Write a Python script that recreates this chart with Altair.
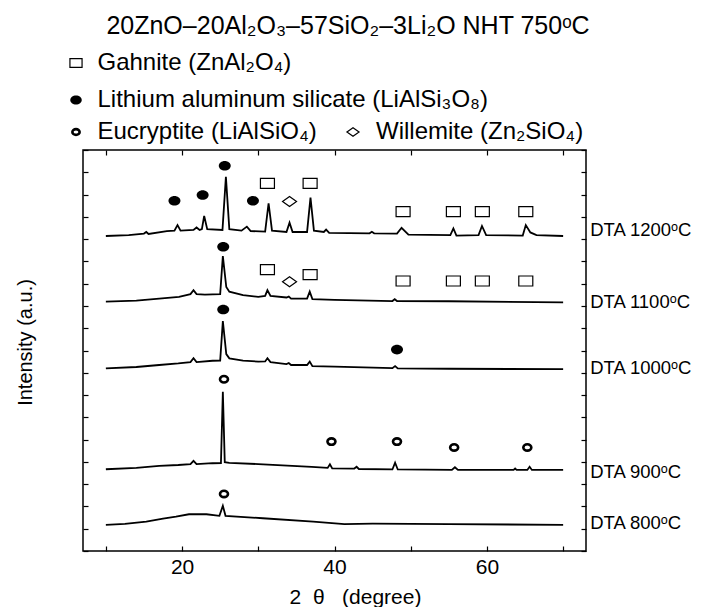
import altair as alt
import pandas as pd

FONT = "Liberation Sans"

# ---- XRD traces (2theta, stacked intensity in a.u.) ----
x_1200 = [10, 13, 15.0, 15.3, 15.6, 18.0, 19.0, 19.4, 19.8, 21.5, 21.9, 22.3, 22.6, 22.9, 23.3,
          25.3, 25.75, 26.2, 27.8, 28.5, 29.0, 30.9, 31.35, 31.8, 33.7, 34.1, 34.5, 36.4, 36.85,
          37.3, 38.6, 38.9, 39.3, 44.6, 44.9, 45.2, 48.2, 48.8, 49.7, 55.2, 55.6, 56.0, 58.9,
          59.35, 59.9, 64.7, 65.1, 65.7, 66.5, 70]
y_1200 = [14.14, 14.18, 14.25, 14.32, 14.23, 14.36, 14.38, 14.63, 14.38, 14.41, 14.52, 14.41,
          14.45, 15.04, 14.45, 14.41, 16.80, 14.45, 14.38, 14.56, 14.36, 14.34, 15.61, 14.38,
          14.32, 14.74, 14.32, 14.32, 15.86, 14.38, 14.32, 14.43, 14.28, 14.26, 14.33, 14.26,
          14.25, 14.51, 14.20, 14.18, 14.48, 14.16, 14.18, 14.59, 14.18, 14.16, 14.63, 14.30,
          14.18, 14.14]

x_1100 = [10, 14, 17, 19.6, 21.1, 21.5, 21.9, 23, 25.0, 25.35, 25.8, 26.2, 28, 30, 30.9, 31.2,
          31.6, 33.7, 34.0, 34.3, 36.4, 36.75, 37.1, 40, 47.6, 47.9, 48.2, 55, 70]
y_1100 = [11.19, 11.24, 11.33, 11.41, 11.53, 11.71, 11.53, 11.51, 11.53, 13.24, 11.85, 11.64,
          11.49, 11.41, 11.45, 11.71, 11.45, 11.38, 11.42, 11.33, 11.33, 11.64, 11.31, 11.27,
          11.22, 11.30, 11.22, 11.21, 11.16]

x_1000 = [10, 14, 17, 19.5, 21.1, 21.5, 21.9, 24, 25.0, 25.35, 25.8, 26.2, 28, 30, 30.9, 31.2,
          31.6, 33.7, 34.0, 34.3, 36.4, 36.75, 37.1, 40, 47.6, 47.95, 48.3, 55, 70]
y_1000 = [8.20, 8.26, 8.35, 8.42, 8.48, 8.65, 8.48, 8.54, 8.55, 10.32, 8.84, 8.65, 8.55, 8.50,
          8.51, 8.65, 8.48, 8.39, 8.44, 8.35, 8.35, 8.50, 8.30, 8.28, 8.21, 8.30, 8.20, 8.18, 8.16]

x_900 = [10, 14, 17, 19.5, 21.1, 21.5, 21.9, 24, 25.1, 25.35, 25.6, 26.2, 30, 37, 39.1, 39.4,
         39.7, 42.6, 42.9, 43.2, 47.6, 47.95, 48.3, 55.4, 55.8, 56.2, 63.5, 63.7, 63.9, 65.3,
         65.6, 65.9, 70]
y_900 = [3.67, 3.73, 3.82, 3.86, 3.90, 4.05, 3.90, 3.94, 3.95, 7.15, 3.99, 3.96, 3.90, 3.78,
         3.73, 3.89, 3.71, 3.70, 3.78, 3.68, 3.66, 3.96, 3.66, 3.64, 3.76, 3.64, 3.64, 3.70,
         3.64, 3.64, 3.78, 3.64, 3.64]

x_800 = [10, 12.5, 15.3, 17.5, 19.2, 20.9, 23.2, 24.9, 25.35, 25.7, 30.6, 37.2, 41.3, 45, 55, 70]
y_800 = [1.17, 1.22, 1.32, 1.45, 1.54, 1.65, 1.65, 1.58, 2.03, 1.58, 1.47, 1.32, 1.21, 1.23,
         1.21, 1.17]

curve_names = ["DTA 1200ᵒC", "DTA 1100ᵒC", "DTA 1000ᵒC", "DTA 900ᵒC", "DTA 800ᵒC"]
curve_x = [x_1200, x_1100, x_1000, x_900, x_800]
curve_y = [y_1200, y_1100, y_1000, y_900, y_800]
label_x = [70, 70, 70, 70, 70]
label_y = [14.41, 11.19, 8.20, 3.56, 1.27]

# ---- phase markers ----
gah_x = [31.2, 36.8, 49.0, 55.6, 59.4, 65.1, 31.2, 36.8, 49.0, 55.6, 59.4, 65.1]
gah_y = [16.50, 16.50, 15.23, 15.23, 15.23, 15.23, 12.63, 12.41, 12.12, 12.12, 12.12, 12.12]
las_x = [19.0, 22.7, 25.6, 29.3, 25.4, 25.4, 48.2]
las_y = [15.72, 15.98, 17.29, 15.72, 13.66, 10.84, 9.04]
euc_x = [25.5, 39.6, 48.2, 55.7, 65.3, 25.5]
euc_y = [7.71, 4.91, 4.91, 4.65, 4.65, 2.56]
wil_x = [34.1, 34.1]
wil_y = [15.69, 12.09]

gah_label = "Gahnite (ZnAl₂O₄)"
las_label = "Lithium aluminum silicate (LiAlSi₃O₈)"
euc_label = "Eucryptite (LiAlSiO₄)"
wil_label = "Willemite (Zn₂SiO₄)"
title_text = "20ZnO–20Al₂O₃–57SiO₂–3Li₂O NHT 750ᵒC"
x_title = "2\u00a0\u00a0θ\u00a0\u00a0\u00a0(degree)"

x_ticks = [10, 20, 30, 40, 50, 60, 70]
y_ticks = list(range(0, 19))

# ---- tables ----
frames = []
for name, xs, ys in zip(curve_names, curve_x, curve_y):
    frames.append(pd.DataFrame({"curve": name, "two_theta": xs, "intensity": ys}))
df_lines = pd.concat(frames, ignore_index=True)
df_labels = pd.DataFrame({"curve": curve_names, "two_theta": label_x, "intensity": label_y})

xscale = alt.Scale(domain=[7, 73], nice=False, zero=False)
yscale = alt.Scale(domain=[0, 18], nice=False, zero=False)

SQUARE = "M-1.4,-1H1.4V1H-1.4Z"
ELLIPSE = "M-1.25,0A1.25,1,0,1,1,1.25,0A1.25,1,0,1,1,-1.25,0Z"
DIAMOND = "M-1.4,0L0,-1L1.4,0L0,1Z"

lines = alt.Chart(df_lines).mark_line(color="black", strokeWidth=1.8).encode(
    x=alt.X("two_theta:Q", scale=xscale, axis=alt.Axis(
        orient="bottom", values=x_ticks, offset=-5, tickSize=5, domain=False, grid=False,
        labelExpr="datum.value % 20 === 0 ? datum.label : ''", labelFlush=False,
        labelPadding=5, labelFontSize=21, labelFont=FONT, labelColor="black",
        title=x_title, titleFont=FONT, titleFontSize=21, titleFontWeight="normal",
        titleColor="black", titleX=272, titleY=51, titleBaseline="middle", titleAlign="center")),
    y=alt.Y("intensity:Q", scale=yscale, axis=alt.Axis(
        orient="left", values=y_ticks, offset=-5, tickSize=5, domain=False, grid=False,
        labels=False, title="Intensity (a.u.)", titleFont=FONT, titleFontSize=20,
        titleFontWeight="normal", titleColor="black", titleX=-63, titleY=192,
        titleAngle=270, titleBaseline="middle", titleAlign="center")),
    detail="curve:N",
)

labels = alt.Chart(df_labels).mark_text(
    align="left", baseline="middle", dx=27, font=FONT, fontSize=18.5, color="black"
).encode(
    x=alt.X("two_theta:Q", scale=xscale, axis=None),
    y=alt.Y("intensity:Q", scale=yscale, axis=None),
    text="curve:N",
)


def marker_layer(xs, ys, label, path, filled, size, sw, lsize, lx, ly, loff, axes=False):
    d = pd.DataFrame({"two_theta": xs, "intensity": ys, "phase": label})
    if axes:
        xax = alt.Axis(orient="top", values=x_ticks, offset=-5, tickSize=5, domain=False,
                       grid=False, labels=False)
        yax = alt.Axis(orient="right", values=y_ticks, offset=-5, tickSize=5, domain=False,
                       grid=False, labels=False)
        xenc = alt.X("two_theta:Q", scale=xscale, axis=xax, title=None)
        yenc = alt.Y("intensity:Q", scale=yscale, axis=yax, title=None)
    else:
        xenc = alt.X("two_theta:Q", scale=xscale, axis=None)
        yenc = alt.Y("intensity:Q", scale=yscale, axis=None)
    leg = alt.Legend(
        orient="none", legendX=lx, legendY=ly, title=None, padding=0,
        labelFont=FONT, labelFontSize=24, labelColor="black", labelLimit=700,
        labelOffset=loff, symbolSize=lsize, symbolStrokeColor="black",
        symbolFillColor="black" if filled else "transparent", symbolStrokeWidth=sw,
    )
    return alt.Chart(d).mark_point(filled=filled, color="black", size=size,
                                   strokeWidth=sw, opacity=1).encode(
        x=xenc, y=yenc,
        shape=alt.Shape("phase:N", scale=alt.Scale(domain=[label], range=[path]), legend=leg),
    )


gah = marker_layer(gah_x, gah_y, gah_label, SQUARE, False, 100, 1.2, 75, -19, -99, 9.5, axes=True)
las = marker_layer(las_x, las_y, las_label, ELLIPSE, True, 92, 0.5, 85, -19, -62, 9.5)
euc = marker_layer(euc_x, euc_y, euc_label, ELLIPSE, False, 41, 2.6, 34, -19, -30, 9.5)
wil = marker_layer(wil_x, wil_y, wil_label, DIAMOND, False, 100, 1.2, 75, 258, -30, 11)

title = alt.Chart(pd.DataFrame({"t": [title_text]})).mark_text(
    align="center", baseline="middle", font=FONT, fontSize=25, color="black"
).encode(x=alt.value(265), y=alt.value(-124), text="t:N")

chart = alt.layer(lines, gah, las, euc, wil, labels, title).resolve_scale(
    shape="independent"
).resolve_legend(shape="independent").resolve_axis(
    x="independent", y="independent"
).properties(
    width=503, height=401,
    autosize=alt.AutoSizeParams(type="none"),
    padding={"left": 75, "top": 142, "right": 106, "bottom": 56},
).configure_view(stroke="black", strokeWidth=1.5).configure_axis(
    tickColor="black", tickWidth=1.2
)

chart.save("out.html", embed_options={"renderer": "svg", "actions": False})
